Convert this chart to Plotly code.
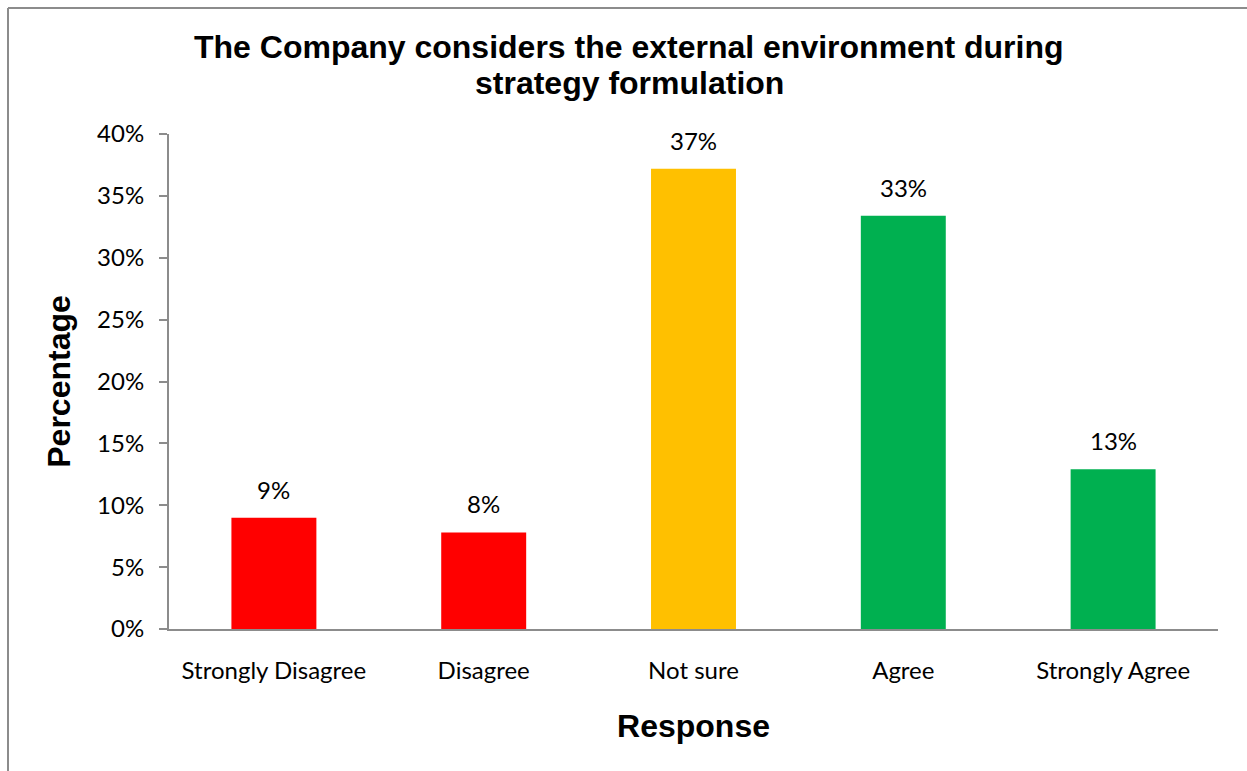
import plotly.graph_objects as go

categories = ["Strongly Disagree", "Disagree", "Not sure", "Agree", "Strongly Agree"]
values = [0.090, 0.078, 0.372, 0.334, 0.129]
bar_colors = ["#FF0000", "#FF0000", "#FFC000", "#00B050", "#00B050"]
y_ticks = [0, 0.05, 0.10, 0.15, 0.20, 0.25, 0.30, 0.35, 0.40]
title_lines = ["The Company considers the external environment during", "strategy formulation"]

W, H = 1247, 771
L, R, T, B = 169, 29, 134, 142
plot_w = W - L - R
plot_h = H - T - B

label_font = dict(family="Lato, 'Open Sans', sans-serif", size=24, color="#000000")
bold_font = "'Liberation Sans', Arial, sans-serif"
axis_gray = "#8c8c8c"

fig = go.Figure(
    go.Bar(
        x=categories,
        y=values,
        marker=dict(color=bar_colors, line=dict(width=0)),
        hovertemplate="%{x}: %{y:.0%}<extra></extra>",
    )
)

# value labels above each bar
for cat, val in zip(categories, values):
    fig.add_annotation(x=cat, y=val, xref="x", yref="y",
                       text=f"{val:.0%}", showarrow=False,
                       yanchor="bottom", yshift=12, font=label_font)

# two-line chart title
for i, line in enumerate(title_lines):
    fig.add_annotation(x=(629 - L) / plot_w, y=(H - B - (47 + 36 * i)) / plot_h,
                       xref="paper", yref="paper", text=f"<b>{line}</b>",
                       showarrow=False, xanchor="center", yanchor="middle",
                       font=dict(family=bold_font, size=32, color="#000000"))

# outer chart frame (left and top edges)
frame_x = (8 - L) / plot_w
frame_y = (H - B - 8) / plot_h
fig.add_shape(type="line", xref="paper", yref="paper",
              x0=frame_x, x1=frame_x, y0=frame_y, y1=-(B + 5) / plot_h,
              line=dict(color=axis_gray, width=2))
fig.add_shape(type="line", xref="paper", yref="paper",
              x0=frame_x, x1=(W - L + 5) / plot_w, y0=frame_y, y1=frame_y,
              line=dict(color=axis_gray, width=2))

fig.update_layout(
    width=W, height=H,
    margin=dict(l=L, r=R, t=T, b=B, pad=0),
    paper_bgcolor="white", plot_bgcolor="white",
    showlegend=False,
    bargap=0.595,
    xaxis=dict(
        showline=True, linecolor=axis_gray, linewidth=2,
        ticks="", showgrid=False, zeroline=False,
        tickfont=label_font, ticklabelstandoff=19,
        title=dict(text="<b>Response</b>", font=dict(family=bold_font, size=32, color="#000000"),
                   standoff=32),
    ),
    yaxis=dict(
        range=[0, 0.40], tickvals=y_ticks, tickformat=".0%",
        showline=True, linecolor=axis_gray, linewidth=2,
        ticks="outside", ticklen=8, tickcolor=axis_gray, tickwidth=2,
        showgrid=False, zeroline=False,
        tickfont=label_font, ticklabelstandoff=10,
        title=dict(text="<b>Percentage</b>", font=dict(family=bold_font, size=32, color="#000000"),
                   standoff=17),
    ),
)

fig.write_html("out.html")
